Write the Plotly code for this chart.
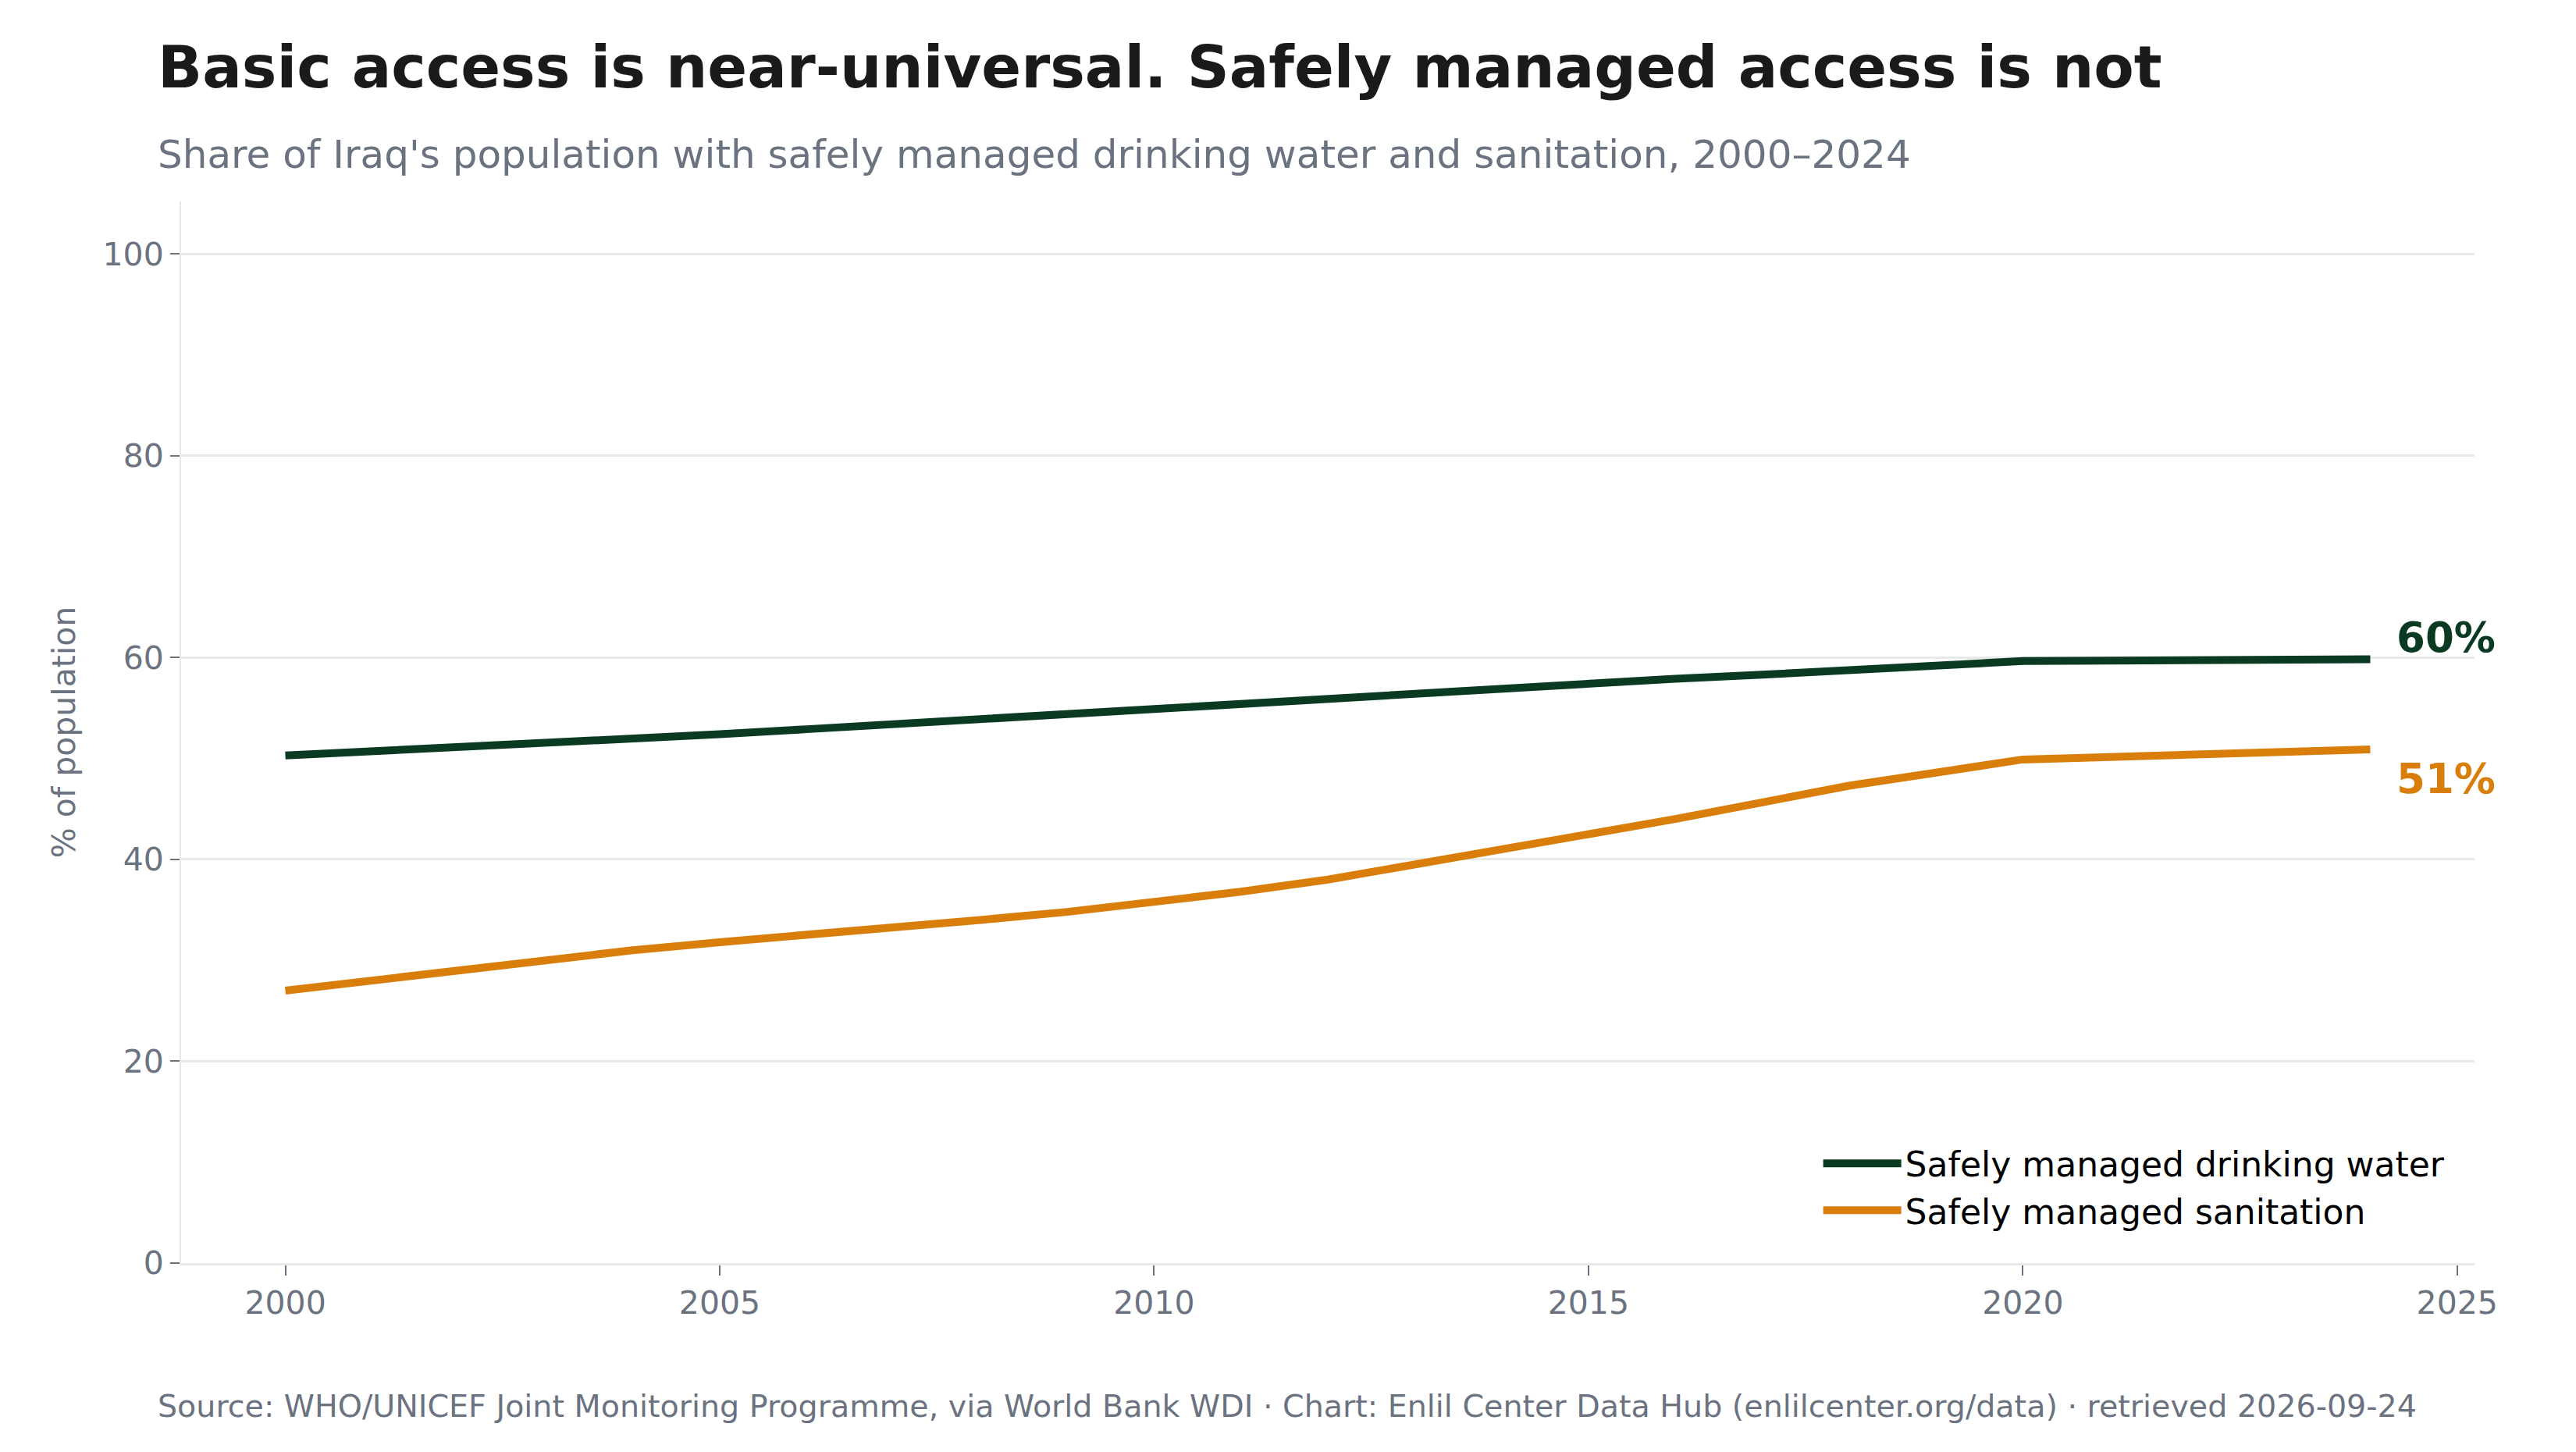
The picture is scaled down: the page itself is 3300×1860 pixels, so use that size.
"""
Iraq WASH chart
Safely managed drinking water vs sanitation, 2000-2024
"""

import plotly.graph_objects as go

years = list(range(2000, 2025))
water = [50.3, 50.7, 51.15, 51.6, 52.0, 52.4, 52.9, 53.4, 53.95, 54.5,
         55.0, 55.5, 55.95, 56.45, 56.95, 57.4, 57.9, 58.3, 58.75, 59.2,
         59.65, 59.7, 59.75, 59.8, 59.84]
sanitation = [27.0, 28.0, 29.0, 30.0, 31.0, 31.8, 32.5, 33.2, 34.0, 34.8,
              35.75, 36.8, 38.0, 39.5, 40.9, 42.4, 44.0, 45.65, 47.3, 48.6,
              49.9, 50.15, 50.4, 50.65, 50.9]
series_names = ["Safely managed drinking water", "Safely managed sanitation"]
y_ticks = [0, 20, 40, 60, 80, 100]
x_ticks = [2000, 2005, 2010, 2015, 2020, 2025]

title = "Basic access is near-universal. Safely managed access is not"
subtitle = "Share of Iraq's population with safely managed drinking water and sanitation, 2000\u20132024"
footer = ("Source: WHO/UNICEF Joint Monitoring Programme, via World Bank WDI \u00b7 "
          "Chart: Enlil Center Data Hub (enlilcenter.org/data) \u00b7 retrieved 2026-09-24")

# Styling
GREEN = "#0b3a22"
ORANGE = "#d97e0b"
GRAY = "#6b7280"
GRID = "#e6eae9"
FONT = "DejaVu Sans"

fig = go.Figure()

for name, values, color in [(series_names[0], water, GREEN),
                            (series_names[1], sanitation, ORANGE)]:
    fig.add_trace(
        go.Scatter(
            x=years,
            y=values,
            mode="lines",
            name=name,
            line=dict(color=color, width=10),
            hoverinfo="skip",
        )
    )

# End-of-line value labels
for values, color, yshift in [(water, GREEN, 28), (sanitation, ORANGE, -38)]:
    fig.add_annotation(
        x=years[-1], y=values[-1],
        text=f"{round(values[-1])}%",
        showarrow=False,
        xanchor="left", yanchor="middle",
        xshift=32, yshift=yshift,
        font=dict(family=FONT, size=53, color=color, weight="bold"),
    )

# Title, subtitle, footer
for text, y, size, color, weight in [
    (title, 1.1265, 75, "#1a1a1a", "bold"),
    (subtitle, 1.0441, 50, GRAY, "normal"),
    (footer, -0.1346, 39.6, GRAY, "normal"),
]:
    fig.add_annotation(
        xref="paper", yref="paper",
        x=-0.0109, y=y,
        text=text,
        showarrow=False,
        xanchor="left", yanchor="middle",
        font=dict(family=FONT, size=size, color=color, weight=weight),
    )

# page body has an 8px margin, so the figure is shrunk by that much
fig.update_layout(
    width=3292,
    height=1852,
    margin=dict(l=224, r=130, t=250, b=242),
    paper_bgcolor="white",
    plot_bgcolor="white",
    font=dict(family=FONT, color=GRAY, size=41),
    showlegend=True,
    legend=dict(
        x=0.7143, y=0.0235,
        xanchor="left", yanchor="bottom",
        bgcolor="rgba(0,0,0,0)",
        font=dict(family=FONT, size=44, color="black"),
        itemwidth=100,
    ),
)

fig.update_xaxes(
    range=[1998.8, 2025.2],
    tickvals=x_ticks,
    showgrid=False,
    zeroline=False,
    showline=True,
    linecolor=GRID,
    linewidth=3,
    ticks="outside",
    ticklen=13,
    tickwidth=2,
    tickcolor=GRAY,
    tickfont=dict(family=FONT, size=41, color=GRAY),
)

fig.update_yaxes(
    range=[0, 105.2],
    tickvals=y_ticks,
    showgrid=True,
    gridcolor=GRID,
    gridwidth=3,
    zeroline=False,
    showline=True,
    linecolor=GRID,
    linewidth=2,
    ticks="outside",
    ticklen=12,
    tickwidth=2,
    tickcolor=GRAY,
    tickfont=dict(family=FONT, size=41, color=GRAY),
    title=dict(text="% of population", standoff=22,
               font=dict(family=FONT, size=41, color=GRAY)),
)

fig.write_html("out.html")
